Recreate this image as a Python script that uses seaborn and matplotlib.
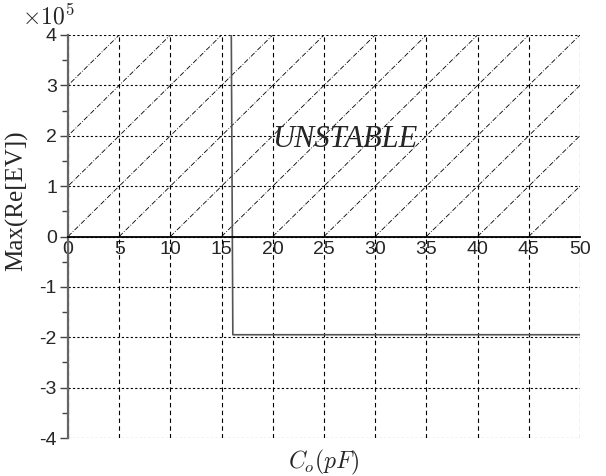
import numpy as np
import matplotlib
matplotlib.use("Agg")
import matplotlib.pyplot as plt
import seaborn as sns

# stability boundary trace: Co (pF) vs max real part of eigenvalues (x1e5)
co_pf = [15.95, 16.1, 50.0]
max_re_ev = [4.0, -1.95, -1.95]

# offsets (in pF) of the diagonal hatch lines marking the unstable region
hatch_offsets = [-20, -15, -10, -5, 0, 5, 10, 15, 20, 25, 30, 35, 40, 45]
hatch_run = [0, 20]     # x run of one hatch line (pF)
hatch_rise = [0, 4]     # y rise of one hatch line (x1e5)

x_ticks = [0, 5, 10, 15, 20, 25, 30, 35, 40, 45, 50]
y_ticks = [-4, -3, -2, -1, 0, 1, 2, 3, 4]


def main():
    sns.set_style("white")
    plt.rcParams['mathtext.fontset'] = 'cm'
    plt.rcParams['font.family'] = ['Liberation Sans', 'DejaVu Sans']

    fig = plt.figure(figsize=(6.06, 4.76), dpi=100)
    ax = fig.add_axes([0.1122, 0.0798, 0.957 - 0.1122, 0.9265 - 0.0798])

    # grid
    for xv in x_ticks:
        ax.axvline(xv, color='black', lw=0.8, ls=(0, (4, 3)), zorder=1)
    for yv in y_ticks:
        ax.axhline(yv, color='black', lw=0.8, ls=(0, (2, 2)), zorder=1)

    # hatch of unstable region
    for off in hatch_offsets:
        hx = [off + v for v in hatch_run]
        sns.lineplot(x=hx, y=hatch_rise, ax=ax, color='black', lw=0.6,
                     linestyle=(0, (6, 2, 1, 2)), sort=False, zorder=2)

    sns.lineplot(x=co_pf, y=max_re_ev, ax=ax, color='#555555', lw=1.2,
                 sort=False, zorder=3)

    ax.set_xlim(0, 50)
    ax.set_ylim(-4, 4)
    ax.set_xticks(x_ticks)
    ax.set_yticks(y_ticks)
    ax.set_yticks(np.arange(-3.5, 4, 1), minor=True)

    for s in ['top', 'right']:
        ax.spines[s].set_visible(False)
    ax.spines['bottom'].set_position(('data', 0))
    ax.spines['bottom'].set_color('black')
    ax.spines['bottom'].set_linewidth(1.3)
    ax.spines['bottom'].set_zorder(4)
    ax.spines['left'].set_color('#666666')
    ax.spines['left'].set_linewidth(1.6)

    ax.tick_params(axis='y', which='major', direction='out', length=6,
                   width=1, color='#444444', labelsize=14, pad=2, left=True)
    ax.tick_params(axis='y', which='minor', direction='out', length=4,
                   width=1, color='#444444', left=True)
    ax.tick_params(axis='x', which='major', length=0, labelsize=14, pad=3)
    ax.set_yticklabels([str(v) for v in y_ticks])

    ax.text(27, 1.93, 'UNSTABLE', family='Liberation Serif', style='italic',
            fontsize=22, ha='center', va='center', zorder=5)
    ax.text(-0.09, 1.015, r'$\times10^5$', transform=ax.transAxes,
            fontsize=17, ha='left', va='bottom')

    ax.set_xlabel(r'$C_o(pF)$', fontsize=17)
    ax.xaxis.set_label_coords(0.5, -0.025)
    ax.set_ylabel('Max(Re[EV])', family='Liberation Serif', fontsize=18)
    ax.yaxis.set_label_coords(-0.078, 0.59)

    fig.savefig('out.png', dpi=100)


if __name__ == "__main__":
    main()
